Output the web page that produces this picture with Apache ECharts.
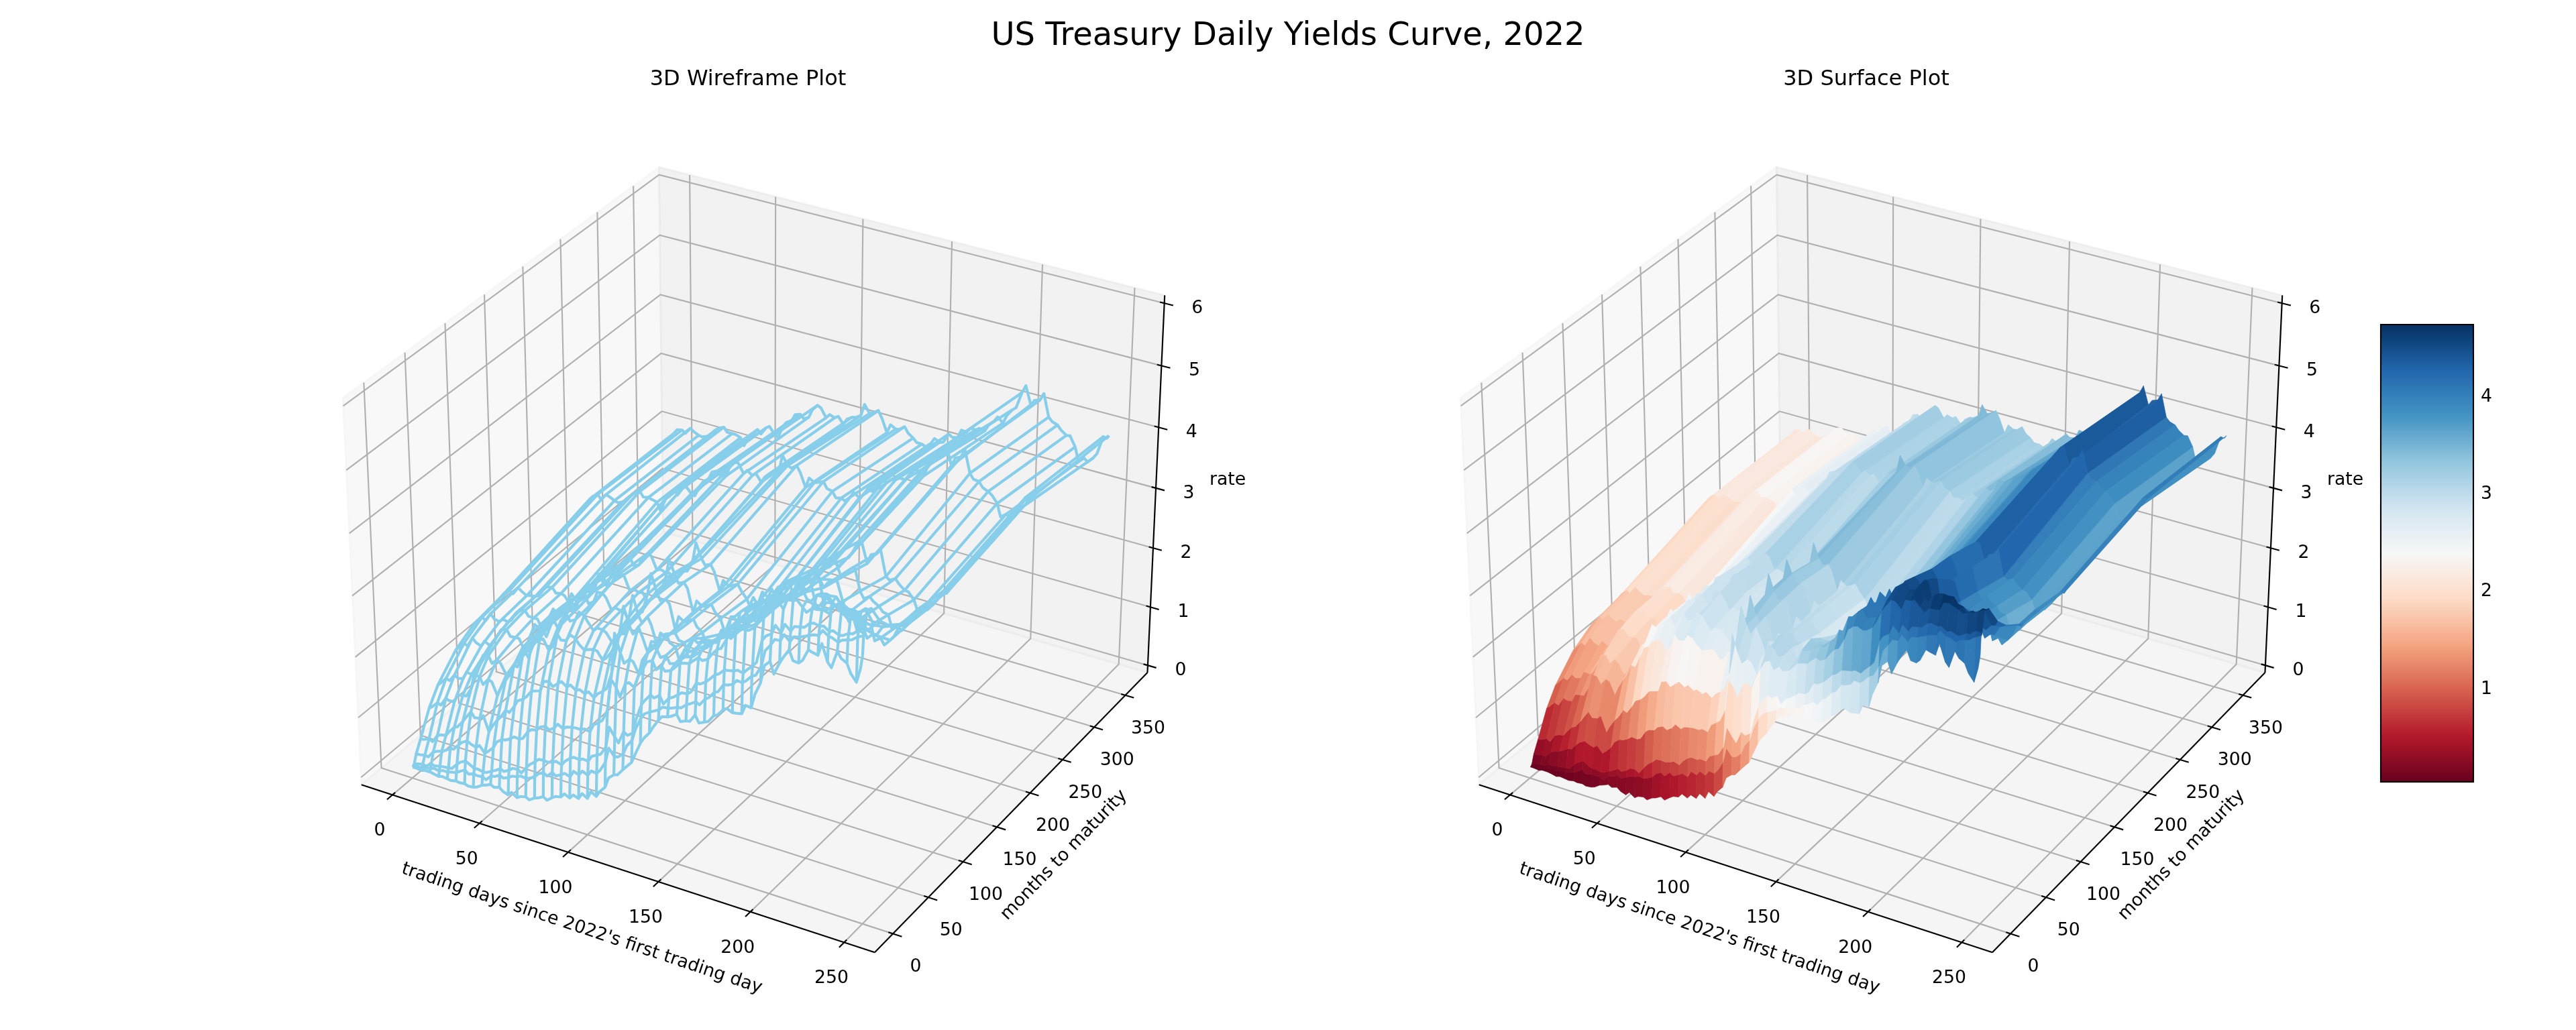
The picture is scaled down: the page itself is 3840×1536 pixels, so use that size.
<!DOCTYPE html>
<html><head><meta charset="utf-8">
<script src="https://cdn.jsdelivr.net/npm/echarts@6/dist/echarts.min.js"></script>
<style>html,body{margin:0;padding:0;background:#fff}#c{width:3840px;height:1536px}</style>
</head><body><div id="c"></div>
<script>
// ---------- DATA ----------
const days=[0,2,5,7,10,12,15,17,20,22,25,27,30,32,35,37,40,42,45,47,50,52,55,57,60,62,65,67,70,72,75,77,80,82,85,87,90,92,95,97,100,102,105,107,110,112,115,117,120,122,125,127,130,132,135,137,140,142,145,147,150,152,155,157,160,162,165,167,170,172,175,177,180,182,185,187,190,192,195,197,200,202,205,207,210,212,215,217,220,222,225,227,230,232,235,237,240,242,245,247,248];
const maturities=[1,2,3,6,12,24,36,60,84,120,240,360];
const mo1=[.05,.05,.04,.06,.06,.05,.03,.05,
.04,.03,.05,.04,.05,.03,.04,.06,
.12,.14,.18,.15,.18,.13,.10,.16,.10,.14,
.16,.13,.19,.21,.26,.22,.29,
.33,.35,.42,.38,.45,.42,.52,.47,.60,
.55,.65,.75,.92,1.00,1.02,1.13,1.20,
1.30,1.45,1.66,1.76,1.87,1.98,2.12,2.20,
2.22,2.25,2.31,2.21,2.25,2.26,2.39,2.28,2.32,
2.35,2.47,2.50,2.61,2.65,2.61,2.62,2.64,2.79,
2.78,3.01,3.22,3.51,3.60,3.42,3.62,3.73,
3.87,3.72,3.71,3.77,3.96,3.94,3.92,4.12,
3.86,3.79,4.07,3.98,3.93,3.79,3.68,3.91,4.12];
const mo2=[.06,.07,.07,.09,.11,.13,.11,.14,
.14,.16,.18,.22,.27,.22,.25,.24,
.25,.22,.31,.32,.37,.34,.38,.42,.44,.47,
.46,.48,.53,.60,.65,.61,.70,
.66,.71,.75,.72,.83,.80,.88,.84,.93,
.92,.99,1.15,1.40,1.29,1.30,1.38,1.53,
1.65,1.85,2.05,2.14,2.20,2.23,2.28,2.34,
2.35,2.37,2.41,2.42,2.50,2.53,2.59,2.56,2.68,
2.72,2.83,2.86,3.00,3.01,3.05,3.13,3.12,3.17,
3.27,3.30,3.47,3.73,3.85,3.95,3.96,4.07,
3.99,4.08,4.10,4.13,4.17,4.20,4.22,4.31,
4.25,4.24,4.20,4.25,4.28,4.30,4.37,4.40,4.41];
const mo3=[.08,.10,.12,.11,.17,.16,.18,.19,
.20,.21,.31,.36,.41,.38,.33,.34,
.32,.33,.38,.41,.47,.44,.49,.54,.55,.51,
.63,.70,.77,.83,.84,.83,.86,
.89,.86,.94,1.02,1.05,1.04,1.07,1.06,1.16,
1.21,1.24,1.39,1.73,1.60,1.52,1.73,1.69,
1.75,2.00,2.26,2.35,2.46,2.43,2.50,2.38,
2.50,2.53,2.60,2.65,2.66,2.71,2.88,2.88,2.94,
3.00,3.10,3.13,3.22,3.23,3.25,3.28,3.26,3.33,
3.42,3.49,3.86,3.95,4.01,4.16,4.07,4.22,
4.14,4.23,4.25,4.26,4.35,4.37,4.35,4.37,
4.31,4.34,4.30,4.31,4.37,4.38,4.46,4.45,4.42];
const mo6=[.22,.22,.24,.23,.34,.37,.40,.43,
.49,.50,.60,.66,.71,.68,.65,.70,
.60,.65,.74,.85,.92,.93,.98,1.03,1.02,1.05,
1.19,1.24,1.26,1.33,1.37,1.33,1.39,
1.47,1.42,1.47,1.49,1.50,1.50,1.53,1.51,1.64,
1.71,1.76,1.96,2.48,2.37,2.23,2.47,2.51,
2.46,2.64,2.81,2.93,2.98,2.85,2.93,2.87,
2.91,2.97,3.07,3.09,3.11,3.17,3.25,3.22,3.27,
3.36,3.47,3.50,3.67,3.84,3.92,3.94,3.90,3.92,
3.99,4.09,4.30,4.39,4.51,4.50,4.41,4.57,
4.58,4.61,4.52,4.46,4.55,4.55,4.57,4.70,
4.72,4.69,4.66,4.62,4.67,4.67,4.72,4.75,4.76];
const yr1=[.40,.41,.45,.42,.55,.58,.60,.68,
.78,.81,.92,1.01,1.13,1.05,1.07,1.13,
.89,1.00,1.13,1.20,1.34,1.32,1.45,1.56,1.61,1.67,
1.79,1.81,1.84,2.01,2.04,1.97,2.05,
2.10,2.04,2.09,2.03,2.06,2.02,2.07,2.00,2.08,
2.15,2.21,2.48,3.15,2.86,2.71,2.80,2.78,
2.61,2.85,3.00,3.14,3.09,2.98,3.04,2.93,
2.96,3.04,3.22,3.20,3.26,3.30,3.36,3.36,3.47,
3.51,3.71,3.71,3.96,3.98,4.08,4.14,4.01,4.05,
4.08,4.16,4.38,4.42,4.56,4.56,4.52,4.66,
4.68,4.73,4.58,4.57,4.69,4.73,4.75,4.74,
4.75,4.66,4.64,4.56,4.62,4.60,4.70,4.70,4.73];
const yr2=[.78,.83,.92,.90,1.04,1.02,1.03,1.16,
1.18,1.19,1.34,1.59,1.58,1.47,1.58,1.56,
1.36,1.50,1.66,1.75,1.95,1.94,2.14,2.30,2.35,2.44,
2.50,2.53,2.37,2.45,2.68,2.60,2.62,
2.73,2.70,2.62,2.55,2.58,2.61,2.60,2.48,2.53,
2.66,2.74,3.06,3.45,3.17,3.05,3.19,3.06,
2.82,3.02,3.04,3.15,3.21,3.09,3.05,2.87,
2.93,3.05,3.27,3.22,3.27,3.22,3.31,3.37,3.45,
3.51,3.45,3.56,3.75,3.85,4.05,4.20,4.07,4.22,
4.15,4.30,4.47,4.45,4.61,4.51,4.41,4.51,
4.71,4.71,4.34,4.38,4.53,4.52,4.44,4.38,
4.41,4.26,4.39,4.22,4.25,4.22,4.32,4.34,4.41];
const yr3=[1.04,1.10,1.20,1.18,1.30,1.26,1.29,1.41,
1.40,1.44,1.60,1.78,1.80,1.69,1.78,1.73,
1.57,1.62,1.79,1.90,2.12,2.14,2.39,2.55,2.50,2.61,
2.68,2.75,2.61,2.75,2.88,2.78,2.83,
2.97,2.94,2.85,2.74,2.80,2.80,2.77,2.65,2.68,
2.82,2.84,3.15,3.50,3.20,3.10,3.23,3.11,
2.82,3.03,2.98,3.06,3.10,3.00,2.99,2.78,
2.82,2.96,3.15,3.14,3.15,3.14,3.26,3.33,3.42,
3.50,3.45,3.56,3.71,3.79,3.98,4.16,4.10,4.25,
4.07,4.25,4.42,4.38,4.55,4.52,4.36,4.45,
4.61,4.62,4.15,4.13,4.28,4.26,4.18,4.13,
4.16,3.97,4.06,3.92,4.01,4.02,4.17,4.20,4.22];
const yr5=[1.37,1.43,1.53,1.50,1.66,1.60,1.57,1.67,
1.62,1.69,1.85,1.95,1.98,1.88,1.89,1.89,
1.72,1.62,1.85,1.95,2.17,2.14,2.42,2.55,2.46,2.55,
2.70,2.79,2.65,2.93,2.95,2.81,2.87,
3.04,3.05,2.99,2.81,2.88,2.85,2.85,2.72,2.81,
2.92,2.94,3.25,3.60,3.34,3.21,3.26,3.20,
2.82,3.04,2.98,3.01,3.07,2.96,2.90,2.70,
2.76,2.81,2.96,3.04,2.98,3.04,3.13,3.19,3.27,
3.36,3.31,3.41,3.55,3.63,3.73,3.96,4.00,4.06,
3.90,4.14,4.23,4.25,4.43,4.34,4.18,4.27,
4.34,4.34,4.05,3.93,3.96,3.95,3.88,3.82,
3.81,3.58,3.65,3.56,3.66,3.74,3.94,3.94,3.99];
const yr7=[1.55,1.62,1.71,1.67,1.81,1.74,1.72,1.78,
1.76,1.81,1.96,2.01,2.04,1.96,1.96,1.96,
1.81,1.71,1.95,2.01,2.21,2.17,2.40,2.55,2.43,2.50,
2.68,2.79,2.71,2.94,3.00,2.85,2.93,
3.07,3.13,3.09,2.88,2.93,2.90,2.92,2.79,2.87,
2.99,3.00,3.26,3.58,3.37,3.24,3.28,3.20,
2.84,3.04,2.98,3.00,3.06,2.95,2.87,2.70,
2.77,2.76,2.89,2.97,2.92,3.00,3.11,3.14,3.20,
3.33,3.31,3.41,3.51,3.58,3.66,3.88,3.92,3.97,
3.84,4.03,4.15,4.19,4.38,4.31,4.09,4.18,
4.27,4.31,3.96,3.86,3.92,3.86,3.81,3.74,
3.72,3.51,3.59,3.53,3.65,3.73,3.93,3.92,3.96];
const yr10=[1.63,1.71,1.78,1.74,1.87,1.83,1.78,1.80,
1.81,1.84,1.97,2.03,2.05,1.97,1.99,1.97,
1.86,1.74,1.95,2.00,2.19,2.14,2.32,2.50,2.35,2.39,
2.61,2.72,2.70,2.85,2.92,2.81,2.85,
2.99,3.08,3.05,2.85,2.88,2.85,2.86,2.75,2.85,
2.96,2.98,3.15,3.48,3.25,3.16,3.20,3.10,
2.81,3.00,2.93,2.96,3.01,2.91,2.81,2.68,
2.75,2.68,2.79,2.89,2.82,2.88,3.05,3.03,3.11,
3.26,3.27,3.33,3.41,3.45,3.56,3.69,3.72,3.83,
3.76,3.89,3.95,4.04,4.24,4.25,3.94,4.10,
4.14,4.22,3.82,3.78,3.83,3.76,3.69,3.68,
3.58,3.42,3.50,3.48,3.59,3.68,3.84,3.83,3.88];
const yr20=[2.05,2.12,2.18,2.12,2.22,2.20,2.16,2.14,
2.18,2.22,2.33,2.39,2.44,2.36,2.38,2.36,
2.34,2.21,2.44,2.49,2.64,2.56,2.70,2.74,2.65,2.63,
2.82,2.91,2.98,3.11,3.15,3.08,3.11,
3.27,3.38,3.38,3.23,3.30,3.24,3.29,3.17,3.27,
3.36,3.36,3.43,3.71,3.57,3.54,3.61,3.51,
3.29,3.46,3.41,3.43,3.47,3.37,3.35,3.26,
3.28,3.25,3.34,3.43,3.37,3.43,3.57,3.53,3.60,
3.76,3.74,3.80,3.83,3.87,3.87,3.96,4.07,4.08,
4.01,4.16,4.30,4.33,4.55,4.60,4.30,4.44,
4.48,4.62,4.26,4.18,4.17,4.09,4.05,4.01,
3.90,3.70,3.77,3.75,3.85,3.93,4.12,4.11,4.14];
const yr30=[2.01,2.09,2.11,2.07,2.18,2.14,2.10,2.09,
2.12,2.14,2.27,2.32,2.36,2.29,2.29,2.29,
2.26,2.14,2.32,2.36,2.48,2.42,2.55,2.59,2.48,2.44,
2.66,2.74,2.79,2.91,2.94,2.88,2.93,
3.07,3.17,3.14,3.00,3.07,3.04,3.08,2.97,3.07,
3.13,3.14,3.20,3.40,3.27,3.30,3.36,3.25,
3.03,3.18,3.13,3.14,3.21,3.12,3.06,3.00,
3.00,2.97,3.05,3.15,3.11,3.13,3.29,3.25,3.27,
3.41,3.40,3.48,3.48,3.52,3.50,3.61,3.70,3.79,
3.71,3.85,3.97,4.02,4.29,4.42,4.13,4.22,
4.25,4.37,4.01,3.95,3.92,3.85,3.79,3.80,
3.64,3.42,3.50,3.45,3.54,3.63,3.93,3.92,3.97];
const rates=[mo1,mo2,mo3,mo6,yr1,yr2,yr3,yr5,yr7,yr10,yr20,yr30];
const xTicks=[0,50,100,150,200,250];
const yTicks=[0,50,100,150,200,250,300,350];
const zTicks=[0,1,2,3,4,5,6];
const barTicks=[1,2,3,4];
const barMin=0.05, barMax=4.74;
const rdbu=['#67001f','#b2182b','#d6604d','#f4a582','#fddbc7','#f7f7f7','#d1e5f0','#92c5de','#4393c3','#2166ac','#053061'];
const suptitle='US Treasury Daily Yields Curve, 2022';
const titles=['3D Wireframe Plot','3D Surface Plot'];
const xName="trading days since 2022's first trading day", yName='months to maturity', zName='rate';

// ---------- PROJECTION (elev 30, azim -60, box aspect 4:4:3) ----------
const FONT='"DejaVu Sans"';
const box={x:[-18.08,266.08],y:[-25.18,386.18],z:[-0.125,6.125]};
const A=[1.1905,1.1905,0.8929], D=10;
const el=30*Math.PI/180, az=-60*Math.PI/180;
const w=[Math.cos(el)*Math.cos(az),Math.cos(el)*Math.sin(az),Math.sin(el)];
const un=Math.hypot(w[1],w[0]);
const u=[-w[1]/un,w[0]/un,0];
const v=[w[1]*u[2]-w[2]*u[1],w[2]*u[0]-w[0]*u[2],w[0]*u[1]-w[1]*u[0]];
function project(x,y,z){
  const q=[((x-box.x[0])/(box.x[1]-box.x[0])-.5)*A[0],((y-box.y[0])/(box.y[1]-box.y[0])-.5)*A[1],((z-box.z[0])/(box.z[1]-box.z[0])-.5)*A[2]];
  const d=a=>a[0]*q[0]+a[1]*q[1]+a[2]*q[2];
  const den=D-d(w);
  return [d(u)/den,d(v)/den,den];
}
const P=(x,y,z)=>project(x,y,z).slice(0,2);

// ---------- COLORMAP ----------
const hex=h=>[1,3,5].map(i=>parseInt(h.substr(i,2),16));
function cmap(val){
  let t=(val-barMin)/(barMax-barMin); t=Math.max(0,Math.min(1,t));
  const f=t*(rdbu.length-1), i=Math.min(rdbu.length-2,Math.floor(f)), r=f-i;
  const a=hex(rdbu[i]), b=hex(rdbu[i+1]);
  return 'rgb('+a.map((c,k)=>Math.round(c+(b[k]-c)*r)).join(',')+')';
}

// ---------- GEOMETRY FROM DATA ----------
const keep=days.map((d,i)=>(d%5===0||i===days.length-1)?i:-1).filter(i=>i>=0);
const wires=[];
keep.forEach(r=>wires.push(maturities.map((m,j)=>P(days[r],m,rates[j][r]))));
maturities.forEach((m,j)=>wires.push(days.map((d,r)=>P(d,m,rates[j][r]))));
const polys=[];
for(let k=0;k<keep.length-1;k++){
  for(let j=0;j<maturities.length-1;j++){
    const per=[];
    for(let r=keep[k];r<=keep[k+1];r++)per.push([days[r],maturities[j],rates[j][r]]);
    for(let r=keep[k+1];r>=keep[k];r--)per.push([days[r],maturities[j+1],rates[j+1][r]]);
    const avg=per.reduce((s,p)=>s+p[2],0)/per.length;
    const prj=per.map(p=>project(p[0],p[1],p[2]));
    const depth=prj.reduce((s,p)=>s+p[2],0)/prj.length;
    polys.push({pts:prj.map(p=>[p[0],p[1]]),color:cmap(avg),depth});
  }
}
polys.sort((a,b)=>b.depth-a.depth);

// frame pieces
const [bx0,bx1]=box.x,[by0,by1]=box.y,[bz0,bz1]=box.z;
const dX=(bx1-bx0)/12,dY=(by1-by0)/12;
const panes=[
 {pts:[P(bx0,by0,bz0),P(bx0,by1,bz0),P(bx0,by1,bz1),P(bx0,by0,bz1)],c:'rgba(242,242,242,0.5)'},
 {pts:[P(bx0,by1,bz0),P(bx1,by1,bz0),P(bx1,by1,bz1),P(bx0,by1,bz1)],c:'rgba(230,230,230,0.5)'},
 {pts:[P(bx0,by0,bz0),P(bx1,by0,bz0),P(bx1,by1,bz0),P(bx0,by1,bz0)],c:'rgba(236,236,236,0.5)'}
];
const grids=[];
xTicks.forEach(t=>grids.push([P(t,by0,bz0),P(t,by1,bz0),P(t,by1,bz1)]));
yTicks.forEach(t=>grids.push([P(bx1,t,bz0),P(bx0,t,bz0),P(bx0,t,bz1)]));
zTicks.forEach(t=>grids.push([P(bx0,by0,t),P(bx0,by1,t),P(bx1,by1,t)]));
const axes=[[P(bx0,by0,bz0),P(bx1,by0,bz0)],[P(bx1,by0,bz0),P(bx1,by1,bz0)],[P(bx1,by1,bz0),P(bx1,by1,bz1)]];
xTicks.forEach(t=>axes.push([P(t,by0-.2*dY,bz0),P(t,by0+.1*dY,bz0)]));
yTicks.forEach(t=>axes.push([P(bx1+.2*dX,t,bz0),P(bx1-.1*dX,t,bz0)]));
zTicks.forEach(t=>axes.push([P(bx1+.2*dX,by1,t),P(bx1-.1*dX,by1,t)]));
const texts=[];
xTicks.forEach(t=>texts.push({p:P(t,by0,bz0),dx:-19,dy:54,s:String(t),r:0}));
yTicks.forEach(t=>texts.push({p:P(bx1,t,bz0),dx:34,dy:50,s:String(t),r:0}));
zTicks.forEach(t=>texts.push({p:P(bx1,by1,t),dx:49,dy:8,s:String(t),r:0}));
texts.push({p:P((bx0+bx1)/2,by0,bz0),dx:-44,dy:93,s:xName,r:-18.5});
texts.push({p:P(bx1,(by0+by1)/2,bz0),dx:70,dy:73,s:yName,r:46});
texts.push({p:P(bx1,by1,(bz0+bz1)/2),dx:107,dy:-12,s:zName,r:0});

// ---------- SERIES ----------
function cs(idx,items,render){
  return {type:'custom',coordinateSystem:'cartesian2d',xAxisIndex:idx,yAxisIndex:idx,silent:true,clip:false,
    animation:false,progressive:0,data:items.map((_,i)=>[i,0]),renderItem:render};
}
function panel(idx,body){
  return [
   cs(idx,panes,(p,api)=>({type:'polygon',shape:{points:panes[p.dataIndex].pts.map(q=>api.coord(q))},style:{fill:panes[p.dataIndex].c,stroke:panes[p.dataIndex].c,lineWidth:2.67}})),
   cs(idx,grids,(p,api)=>({type:'polyline',shape:{points:grids[p.dataIndex].map(q=>api.coord(q))},style:{fill:null,stroke:'#b0b0b0',lineWidth:2.13}})),
   cs(idx,axes,(p,api)=>({type:'polyline',shape:{points:axes[p.dataIndex].map(q=>api.coord(q))},style:{fill:null,stroke:'#000',lineWidth:2.13}})),
   cs(idx,texts,(p,api)=>{const t=texts[p.dataIndex],c=api.coord(t.p);
     return {type:'text',x:c[0]+t.dx,y:c[1]+t.dy,rotation:t.r*Math.PI/180,
       style:{x:0,y:0,text:t.s,font:'26.67px '+FONT,fill:'#000',align:'center',verticalAlign:'middle',textAlign:'center',textVerticalAlign:'middle'}};}),
   body
  ];
}
const wireSeries=cs(0,wires,(p,api)=>({type:'polyline',shape:{points:wires[p.dataIndex].map(q=>api.coord(q))},style:{fill:null,stroke:'#87ceeb',lineWidth:4.2,lineJoin:'round'}}));
const surfSeries=cs(1,polys,(p,api)=>{const g=polys[p.dataIndex];
  return {type:'polygon',shape:{points:g.pts.map(q=>api.coord(q))},style:{fill:g.color,stroke:g.color,lineWidth:0.7}};});
const barSeries={type:'custom',coordinateSystem:'cartesian2d',xAxisIndex:2,yAxisIndex:2,silent:true,clip:false,animation:false,
  data:[[0,barMin,1,barMax]],renderItem:(p,api)=>{
    const a=api.coord([api.value(0),api.value(3)]),b=api.coord([api.value(2),api.value(1)]);
    return {type:'rect',shape:{x:a[0],y:a[1],width:b[0]-a[0],height:b[1]-a[1]},
      style:{fill:new echarts.graphic.LinearGradient(0,1,0,0,rdbu.map((c,i)=>({offset:i/(rdbu.length-1),color:c}))),stroke:'#000',lineWidth:2.13}};
  }};

const S=1362.2,CY=825,CX=[1117,2783];
const lim={min:-0.095,max:0.09,show:false,type:'value'};
const chart=echarts.init(document.getElementById('c'),null,{renderer:'canvas',width:3840,height:1536});
chart.setOption({
  animation:false,backgroundColor:'#fff',
  title:[
    {text:suptitle,left:1915,top:26,textAlign:'center',textStyle:{fontFamily:FONT,fontSize:48,fontWeight:'normal',color:'#000'}},
    {text:titles[0],left:1110,top:98,textAlign:'center',textStyle:{fontFamily:FONT,fontSize:32,fontWeight:'normal',color:'#000'}},
    {text:titles[1],left:2777,top:98,textAlign:'center',textStyle:{fontFamily:FONT,fontSize:32,fontWeight:'normal',color:'#000'}}
  ],
  grid:[
    {left:CX[0]-S/2,top:CY-S/2,width:S,height:S},
    {left:CX[1]-S/2,top:CY-S/2,width:S,height:S},
    {left:3549,top:484,width:138,height:682}
  ],
  xAxis:[Object.assign({gridIndex:0},lim),Object.assign({gridIndex:1},lim),{gridIndex:2,type:'value',min:0,max:1,show:false}],
  yAxis:[Object.assign({gridIndex:0},lim),Object.assign({gridIndex:1},lim),
    {gridIndex:2,type:'value',position:'right',min:barMin,max:barMax,splitLine:{show:false},
     axisLine:{show:false},
     axisTick:{show:true,length:9.3,customValues:barTicks,lineStyle:{color:'#000',width:2.13}},
     axisLabel:{show:true,customValues:barTicks,margin:11,padding:[8,0,0,0],fontFamily:FONT,fontSize:26.67,color:'#000'}}],
  series:[...panel(0,wireSeries),...panel(1,surfSeries),barSeries]
});
</script></body></html>
